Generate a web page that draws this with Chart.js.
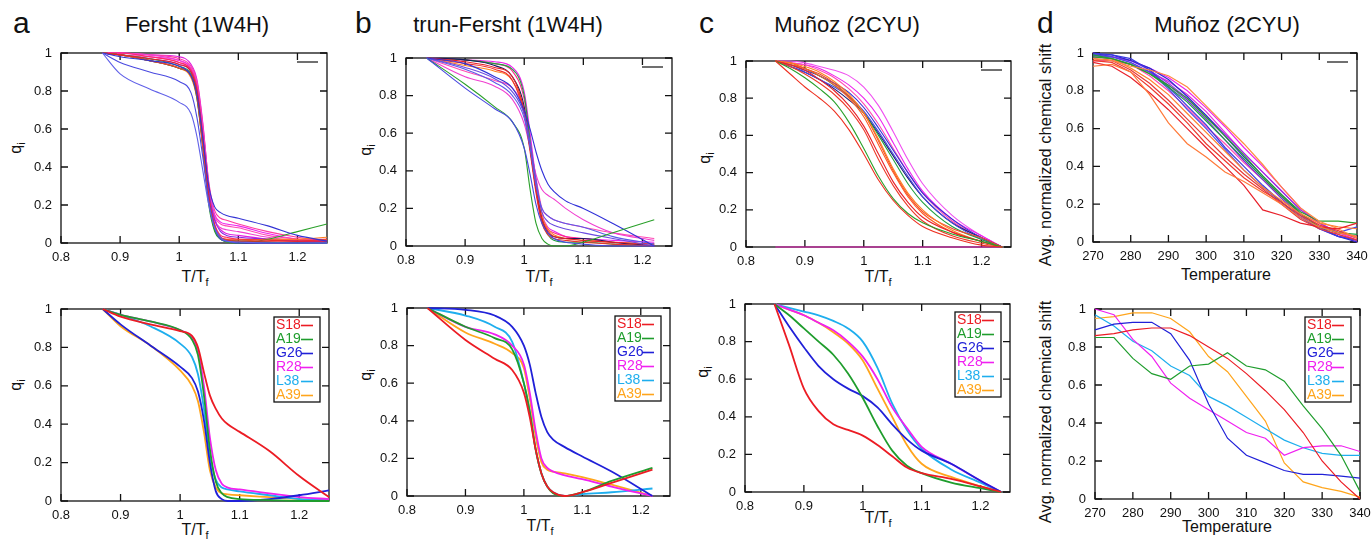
<!DOCTYPE html>
<html>
<head>
<meta charset="utf-8">
<title>Residue unfolding curves</title>
<script src="https://cdn.jsdelivr.net/npm/chart.js@4.4.1/dist/chart.umd.min.js"></script>
<style>
    body { margin: 0; width: 1371px; height: 542px; position: relative; overflow: hidden; background: #fff;
           font-family: "Liberation Sans", Arial, sans-serif; color: #111 }
    canvas { position: absolute }
    .t { position: absolute; white-space: nowrap; line-height: 1 }
    .letter { font-size: 30px }
    .title { font-size: 22px; transform: translateX(-50%) }
    .axis { font-size: 16px; transform: translate(-50%, -50%) }
    .yaxis { font-size: 16px; transform: translate(-50%, -50%) rotate(-90deg) }
    .ylong { font-size: 16.5px; transform: translate(-50%, -50%) rotate(-90deg) }
    sub { font-size: 11px; vertical-align: -4px; line-height: 0 }
</style>
</head>
<body>

<div class="t letter" style="left:13px;top:8px">a</div>
<div class="t letter" style="left:355px;top:8px">b</div>
<div class="t letter" style="left:699px;top:8px">c</div>
<div class="t letter" style="left:1037px;top:8px">d</div>

<div class="t title" style="left:197px;top:14px">Fersht (1W4H)</div>
<div class="t title" style="left:508px;top:14px">trun-Fersht (1W4H)</div>
<div class="t title" style="left:847px;top:14px">Muñoz (2CYU)</div>
<div class="t title" style="left:1227px;top:14px">Muñoz (2CYU)</div>

<div class="t axis" style="left:195px;top:277px">T/T<sub>f</sub></div>
<div class="t axis" style="left:195px;top:530px">T/T<sub>f</sub></div>
<div class="t axis" style="left:539px;top:277px">T/T<sub>f</sub></div>
<div class="t axis" style="left:540px;top:526px">T/T<sub>f</sub></div>
<div class="t axis" style="left:878px;top:277px">T/T<sub>f</sub></div>
<div class="t axis" style="left:878px;top:518px">T/T<sub>f</sub></div>
<div class="t axis" style="left:1226px;top:275px">Temperature</div>
<div class="t axis" style="left:1227px;top:527px">Temperature</div>

<div class="t yaxis" style="left:16px;top:148px">q<sub>i</sub></div>
<div class="t yaxis" style="left:16px;top:385px">q<sub>i</sub></div>
<div class="t yaxis" style="left:366px;top:150px">q<sub>i</sub></div>
<div class="t yaxis" style="left:366px;top:375px">q<sub>i</sub></div>
<div class="t yaxis" style="left:705px;top:158px">q<sub>i</sub></div>
<div class="t yaxis" style="left:703px;top:372px">q<sub>i</sub></div>
<div class="t ylong" style="left:1045px;top:155px">Avg. normalized chemical shift</div>
<div class="t ylong" style="left:1045px;top:412px">Avg. normalized chemical shift</div>

<script>
// ---- shared axes ----
const qTicks = [0, 0.2, 0.4, 0.6, 0.8, 1]
const ratioTicks = [0.8, 0.9, 1, 1.1, 1.2]
const tempTicks = [270, 280, 290, 300, 310, 320, 330, 340]

// ---- residues shown in the bottom row ----
const residues = ['S18', 'A19', 'G26', 'R28', 'L38', 'A39']
const residueColors = ['#ec1c24', '#1f9d2d', '#2020d8', '#f020f0', '#1eaeee', '#ffa51c']

// ---- a: Fersht (1W4H) ----
const fershtT = [0.87, 0.9, 0.95, 1, 1.02, 1.03, 1.04, 1.05, 1.06, 1.07, 1.08, 1.1, 1.15, 1.2, 1.25]
const fershtAll = [
    [1, 0.89, 0.81, 0.74, 0.68, 0.56, 0.38, 0.2, 0.08, 0.03, 0.01, 0.005, 0, 0, 0],
    [1, 0.95, 0.9, 0.85, 0.79, 0.66, 0.45, 0.22, 0.08, 0.02, 0.01, 0, 0, 0, 0],
    [1, 0.98, 0.96, 0.93, 0.88, 0.78, 0.55, 0.3, 0.19, 0.16, 0.145, 0.13, 0.09, 0.04, 0.01],
    [1, 0.99, 0.97, 0.94, 0.9, 0.8, 0.55, 0.25, 0.09, 0.03, 0.015, 0.01, 0.01, 0.01, 0.01],
    [1, 0.99, 0.96, 0.92, 0.88, 0.77, 0.5, 0.22, 0.08, 0.03, 0.02, 0.02, 0.015, 0.01, 0.02],
    [1, 0.99, 0.96, 0.92, 0.88, 0.76, 0.5, 0.2, 0.06, 0.02, 0.005, 0, 0.02, 0.06, 0.1],
    [1, 0.99, 0.97, 0.93, 0.89, 0.79, 0.53, 0.22, 0.07, 0.02, 0.01, 0.01, 0.005, 0, 0],
    [1, 0.99, 0.96, 0.92, 0.87, 0.76, 0.5, 0.22, 0.08, 0.03, 0.02, 0.01, 0.02, 0.02, 0.03],
    [1, 0.99, 0.96, 0.92, 0.88, 0.78, 0.52, 0.22, 0.07, 0.02, 0.01, 0, 0, 0, 0],
    [1, 0.99, 0.97, 0.94, 0.9, 0.8, 0.56, 0.27, 0.12, 0.06, 0.04, 0.03, 0.02, 0.01, 0.01],
    [1, 1, 0.98, 0.95, 0.91, 0.82, 0.57, 0.27, 0.1, 0.04, 0.03, 0.02, 0.02, 0.02, 0.02],
    [1, 0.99, 0.98, 0.95, 0.91, 0.82, 0.58, 0.29, 0.14, 0.1, 0.09, 0.08, 0.04, 0.02, 0],
    [1, 1, 0.99, 0.96, 0.92, 0.84, 0.6, 0.28, 0.12, 0.08, 0.07, 0.06, 0.03, 0.01, 0],
    [1, 1, 0.98, 0.96, 0.92, 0.83, 0.6, 0.3, 0.15, 0.11, 0.1, 0.09, 0.05, 0.02, 0.01],
    [1, 1, 0.99, 0.97, 0.93, 0.85, 0.62, 0.32, 0.17, 0.13, 0.12, 0.1, 0.06, 0.03, 0.01],
    [1, 1, 0.99, 0.98, 0.94, 0.86, 0.63, 0.31, 0.13, 0.07, 0.05, 0.04, 0.02, 0.01, 0]
]
const fershtAllColors = ['#6060e8', '#4a4ae0', '#3434d4', '#e8202a', '#ee4030', '#2aa02a', '#20a040',
    '#ff8020', '#1a1a60', '#8a2be2', '#ff2a6a', '#ff4ab4', '#f040d0', '#ee22ee', '#ff3aa0', '#e020e0']
const fershtSelected = [
    [1, 0.96, 0.92, 0.885, 0.86, 0.8, 0.67, 0.55, 0.48, 0.43, 0.4, 0.36, 0.26, 0.13, 0.02],
    [1, 0.97, 0.935, 0.89, 0.84, 0.76, 0.55, 0.27, 0.1, 0.04, 0.02, 0.01, 0.005, 0, 0],
    [1, 0.92, 0.81, 0.7, 0.64, 0.57, 0.42, 0.2, 0.05, 0.01, 0, 0, 0.01, 0.03, 0.055],
    [1, 0.97, 0.935, 0.89, 0.85, 0.78, 0.6, 0.33, 0.16, 0.09, 0.07, 0.06, 0.04, 0.02, 0.01],
    [1, 0.97, 0.91, 0.82, 0.75, 0.66, 0.48, 0.24, 0.11, 0.07, 0.06, 0.05, 0.03, 0.01, 0.005],
    [1, 0.91, 0.81, 0.68, 0.6, 0.52, 0.36, 0.16, 0.07, 0.04, 0.035, 0.03, 0.02, 0.01, 0.005]
]

// ---- b: trun-Fersht (1W4H) ----
const trunT = [0.835, 0.9, 0.95, 0.98, 1, 1.01, 1.02, 1.03, 1.04, 1.05, 1.07, 1.1, 1.15, 1.22]
const trunAll = [
    [1, 0.84, 0.73, 0.66, 0.52, 0.38, 0.22, 0.12, 0.07, 0.04, 0.02, 0.01, 0, 0],
    [1, 0.86, 0.74, 0.66, 0.52, 0.3, 0.12, 0.04, 0.01, 0, 0, 0.02, 0.07, 0.14],
    [1, 0.97, 0.9, 0.84, 0.72, 0.62, 0.5, 0.4, 0.33, 0.29, 0.24, 0.2, 0.12, 0],
    [1, 0.94, 0.87, 0.8, 0.68, 0.52, 0.32, 0.2, 0.16, 0.14, 0.12, 0.1, 0.05, 0.01],
    [1, 0.95, 0.89, 0.82, 0.7, 0.55, 0.35, 0.18, 0.13, 0.11, 0.09, 0.07, 0.04, 0],
    [1, 0.98, 0.95, 0.9, 0.72, 0.52, 0.3, 0.14, 0.08, 0.05, 0.04, 0.03, 0.02, 0.01],
    [1, 0.97, 0.94, 0.88, 0.7, 0.5, 0.28, 0.12, 0.06, 0.04, 0.03, 0.02, 0.01, 0],
    [1, 0.99, 0.96, 0.9, 0.74, 0.52, 0.3, 0.14, 0.07, 0.05, 0.04, 0.04, 0.02, 0],
    [1, 0.99, 0.97, 0.94, 0.8, 0.56, 0.3, 0.13, 0.06, 0.03, 0.02, 0.02, 0.01, 0],
    [1, 0.96, 0.93, 0.88, 0.72, 0.52, 0.32, 0.16, 0.09, 0.06, 0.04, 0.03, 0.02, 0.01],
    [1, 0.9, 0.85, 0.78, 0.65, 0.52, 0.38, 0.3, 0.27, 0.25, 0.2, 0.14, 0.07, 0.03],
    [1, 0.93, 0.88, 0.84, 0.72, 0.55, 0.36, 0.2, 0.16, 0.14, 0.12, 0.1, 0.07, 0.04],
    [1, 0.99, 0.97, 0.93, 0.78, 0.56, 0.32, 0.15, 0.09, 0.07, 0.05, 0.04, 0.02, 0],
    [1, 0.99, 0.98, 0.95, 0.82, 0.6, 0.35, 0.17, 0.1, 0.08, 0.05, 0.04, 0.03, 0.02]
]
const trunAllColors = ['#4848e0', '#2aa02a', '#3030d8', '#5a5ae8', '#6a4ae0', '#e8202a', '#ee3030',
    '#1a1a60', '#20a040', '#ff8020', '#f040d0', '#ff4ab4', '#ff2a8a', '#ee22ee']
const trunSelected = [
    [1, 0.83, 0.73, 0.67, 0.55, 0.42, 0.25, 0.12, 0.05, 0.02, 0, 0.02, 0.07, 0.14],
    [1, 0.9, 0.84, 0.78, 0.6, 0.45, 0.25, 0.12, 0.05, 0.015, 0, 0.02, 0.08, 0.15],
    [1, 0.99, 0.96, 0.9, 0.8, 0.7, 0.55, 0.42, 0.34, 0.3, 0.26, 0.21, 0.13, 0],
    [1, 0.9, 0.86, 0.8, 0.7, 0.55, 0.35, 0.2, 0.15, 0.13, 0.11, 0.09, 0.05, 0],
    [1, 0.96, 0.9, 0.82, 0.6, 0.45, 0.25, 0.12, 0.05, 0.02, 0, 0.01, 0.02, 0.04],
    [1, 0.87, 0.81, 0.76, 0.68, 0.52, 0.32, 0.18, 0.14, 0.13, 0.12, 0.1, 0.06, 0]
]

// ---- c: Muñoz (2CYU) ----
const munozT = [0.85, 0.875, 0.9, 0.925, 0.95, 0.975, 1, 1.025, 1.05, 1.075, 1.1, 1.15, 1.2, 1.235]
const munozAll = [
    [1, 0.93, 0.86, 0.8, 0.73, 0.63, 0.5, 0.36, 0.25, 0.17, 0.11, 0.05, 0.01, 0],
    [1, 0.96, 0.91, 0.85, 0.78, 0.67, 0.53, 0.38, 0.26, 0.18, 0.13, 0.07, 0.03, 0],
    [1, 0.98, 0.95, 0.9, 0.84, 0.76, 0.65, 0.5, 0.35, 0.24, 0.16, 0.08, 0.03, 0],
    [1, 0.98, 0.96, 0.92, 0.87, 0.8, 0.7, 0.55, 0.4, 0.27, 0.18, 0.08, 0.03, 0],
    [1, 0.99, 0.97, 0.94, 0.89, 0.82, 0.72, 0.58, 0.42, 0.29, 0.2, 0.09, 0.03, 0],
    [1, 0.99, 0.96, 0.93, 0.88, 0.81, 0.72, 0.57, 0.41, 0.28, 0.19, 0.1, 0.05, 0],
    [1, 0.97, 0.93, 0.88, 0.82, 0.74, 0.63, 0.47, 0.33, 0.22, 0.14, 0.06, 0.02, 0],
    [1, 0.98, 0.96, 0.92, 0.87, 0.81, 0.72, 0.6, 0.47, 0.34, 0.24, 0.11, 0.04, 0],
    [1, 0.98, 0.95, 0.92, 0.88, 0.83, 0.75, 0.64, 0.52, 0.4, 0.29, 0.15, 0.05, 0],
    [1, 0.97, 0.94, 0.9, 0.86, 0.81, 0.73, 0.62, 0.5, 0.38, 0.27, 0.13, 0.04, 0],
    [1, 0.97, 0.94, 0.9, 0.85, 0.79, 0.72, 0.61, 0.49, 0.37, 0.27, 0.13, 0.05, 0],
    [1, 0.99, 0.98, 0.95, 0.91, 0.85, 0.77, 0.66, 0.53, 0.4, 0.29, 0.14, 0.05, 0],
    [1, 0.99, 0.98, 0.96, 0.92, 0.87, 0.8, 0.7, 0.56, 0.42, 0.3, 0.15, 0.06, 0],
    [1, 1, 0.99, 0.97, 0.95, 0.92, 0.86, 0.76, 0.62, 0.47, 0.34, 0.17, 0.06, 0],
    [0, 0, 0, 0, 0, 0, 0, 0, 0, 0, 0, 0, 0, 0]
]
const munozAllColors = ['#ee3020', '#2aa02a', '#e8202a', '#ff5a20', '#ff8020', '#f04a30', '#ee3a2a',
    '#20a040', '#3030d8', '#4848e0', '#1a1a70', '#ff4ab4', '#ee22ee', '#f050f0', '#f020c0']
const munozSelected = [
    [1, 0.78, 0.55, 0.43, 0.36, 0.33, 0.3, 0.25, 0.19, 0.13, 0.1, 0.07, 0.03, 0],
    [1, 0.94, 0.87, 0.8, 0.73, 0.63, 0.5, 0.35, 0.22, 0.14, 0.1, 0.05, 0.02, 0],
    [1, 0.88, 0.77, 0.67, 0.6, 0.55, 0.51, 0.45, 0.36, 0.28, 0.22, 0.15, 0.06, 0],
    [1, 0.97, 0.94, 0.9, 0.86, 0.8, 0.72, 0.6, 0.45, 0.34, 0.24, 0.15, 0.06, 0],
    [1, 0.98, 0.96, 0.94, 0.91, 0.87, 0.8, 0.66, 0.47, 0.33, 0.23, 0.12, 0.05, 0],
    [1, 0.97, 0.94, 0.9, 0.85, 0.79, 0.7, 0.55, 0.4, 0.25, 0.15, 0.08, 0.03, 0]
]

// ---- d: Muñoz (2CYU), NMR chemical shifts ----
const shiftTemp = [270, 275, 280, 285, 290, 295, 300, 305, 310, 315, 320, 325, 330, 335, 340]
const shiftAll = [
    [0.93, 0.94, 0.9, 0.78, 0.63, 0.52, 0.45, 0.37, 0.32, 0.26, 0.2, 0.13, 0.08, 0.05, 0.03],
    [0.95, 0.93, 0.87, 0.79, 0.7, 0.6, 0.5, 0.4, 0.3, 0.17, 0.14, 0.1, 0.08, 0.07, 0.1],
    [0.97, 0.96, 0.93, 0.91, 0.88, 0.82, 0.72, 0.62, 0.52, 0.41, 0.29, 0.18, 0.11, 0.07, 0.02],
    [0.98, 0.97, 0.94, 0.89, 0.83, 0.76, 0.66, 0.56, 0.46, 0.35, 0.25, 0.16, 0.11, 0.11, 0.1],
    [0.96, 0.95, 0.9, 0.82, 0.73, 0.63, 0.52, 0.43, 0.34, 0.27, 0.21, 0.14, 0.09, 0.06, 0.02],
    [0.97, 0.96, 0.91, 0.84, 0.75, 0.65, 0.55, 0.45, 0.36, 0.28, 0.2, 0.12, 0.07, 0.04, 0.01],
    [0.96, 0.97, 0.92, 0.86, 0.78, 0.68, 0.58, 0.48, 0.38, 0.29, 0.22, 0.15, 0.1, 0.08, 0.07],
    [0.99, 0.97, 0.94, 0.89, 0.82, 0.74, 0.64, 0.54, 0.44, 0.34, 0.24, 0.15, 0.08, 0.05, 0.04],
    [1, 0.99, 0.97, 0.91, 0.82, 0.72, 0.62, 0.5, 0.4, 0.3, 0.21, 0.13, 0.07, 0.03, 0.01],
    [0.99, 0.98, 0.95, 0.9, 0.81, 0.7, 0.6, 0.49, 0.38, 0.29, 0.21, 0.13, 0.08, 0.05, 0.08],
    [0.99, 0.99, 0.96, 0.92, 0.86, 0.77, 0.67, 0.56, 0.45, 0.35, 0.25, 0.15, 0.08, 0.03, 0],
    [1, 0.98, 0.95, 0.9, 0.83, 0.75, 0.65, 0.54, 0.43, 0.33, 0.23, 0.14, 0.07, 0.03, 0.01],
    [0.98, 0.98, 0.96, 0.91, 0.84, 0.76, 0.67, 0.57, 0.47, 0.37, 0.27, 0.17, 0.1, 0.05, 0.03],
    [0.98, 0.97, 0.94, 0.88, 0.8, 0.71, 0.61, 0.52, 0.42, 0.33, 0.24, 0.15, 0.09, 0.05, 0.02],
    [0.96, 0.96, 0.94, 0.9, 0.85, 0.78, 0.69, 0.58, 0.47, 0.37, 0.27, 0.17, 0.1, 0.04, 0],
    [0.99, 0.98, 0.96, 0.92, 0.87, 0.8, 0.71, 0.61, 0.5, 0.4, 0.29, 0.18, 0.1, 0.05, 0.01]
]
const shiftAllColors = ['#ff7a3a', '#e8202a', '#ff8a40', '#2aa02a', '#ee3a30', '#e83a3a', '#ff8030',
    '#20a040', '#3a3ae0', '#4a4ae6', '#2a2ad0', '#7a2ae0', '#9a30e8', '#ff4ab4', '#e030e0', '#ee22ee']
const shiftSelected = [
    [0.86, 0.87, 0.89, 0.9, 0.9, 0.86, 0.8, 0.74, 0.66, 0.57, 0.47, 0.35, 0.2, 0.09, 0],
    [0.85, 0.85, 0.74, 0.66, 0.63, 0.7, 0.71, 0.77, 0.7, 0.68, 0.62, 0.49, 0.37, 0.23, 0.04],
    [0.89, 0.92, 0.93, 0.93, 0.87, 0.73, 0.5, 0.32, 0.23, 0.19, 0.15, 0.13, 0.13, 0.12, 0.11],
    [1, 0.97, 0.84, 0.75, 0.61, 0.53, 0.47, 0.41, 0.35, 0.32, 0.23, 0.27, 0.28, 0.28, 0.25],
    [0.97, 0.91, 0.83, 0.78, 0.7, 0.65, 0.54, 0.49, 0.43, 0.37, 0.31, 0.27, 0.24, 0.23, 0.23],
    [0.95, 0.96, 0.98, 0.98, 0.95, 0.88, 0.75, 0.67, 0.54, 0.41, 0.19, 0.09, 0.06, 0.04, 0.01]
]

Chart.defaults.font.family = '"Liberation Sans", Arial, sans-serif'
Chart.defaults.font.size = 13
Chart.defaults.color = '#111'

/**
 * Gnuplot style border with inward tick marks on all four sides
 */
const framePlugin = {
    id: 'frame',
    beforeDatasetsDraw(chart) {
        const {ctx, chartArea: a, scales: {x, y}} = chart
        const len = 7
        ctx.save()
        ctx.strokeStyle = '#111'
        ctx.lineWidth = 1.3
        ctx.strokeRect(a.left, a.top, a.right - a.left, a.bottom - a.top)
        ctx.beginPath()
        for (const t of x.ticks) {
            const px = x.getPixelForValue(t.value)
            ctx.moveTo(px, a.bottom); ctx.lineTo(px, a.bottom - len)
            ctx.moveTo(px, a.top); ctx.lineTo(px, a.top + len)
        }
        for (const t of y.ticks) {
            const py = y.getPixelForValue(t.value)
            ctx.moveTo(a.left, py); ctx.lineTo(a.left + len, py)
            ctx.moveTo(a.right, py); ctx.lineTo(a.right - len, py)
        }
        ctx.stroke()
        ctx.restore()
    }
}

/**
 * Key in the top right corner: a boxed list of labelled samples,
 * or the lone untitled sample line that the top row shows
 */
const keyPlugin = {
    id: 'key',
    afterDatasetsDraw(chart, args, opts) {
        const {ctx, chartArea: a} = chart
        const right = a.right - 9
        const top = a.top + 8
        ctx.save()
        ctx.lineWidth = 1.3
        if (!opts.boxed) {
            ctx.strokeStyle = '#222'
            ctx.beginPath()
            ctx.moveTo(right - 21, top + 1); ctx.lineTo(right, top + 1)
            ctx.stroke()
            ctx.restore()
            return
        }
        const items = chart.data.datasets.filter(d => d.label)
        const w = 46
        ctx.strokeStyle = '#111'
        ctx.strokeRect(right - w, top, w, items.length * 14 + 1)
        ctx.font = '14px "Liberation Sans", Arial, sans-serif'
        ctx.textBaseline = 'middle'
        items.forEach((d, i) => {
            const cy = top + 8.5 + i * 14
            ctx.fillStyle = d.borderColor
            ctx.fillText(d.label, right - w + 2, cy)
            ctx.strokeStyle = d.borderColor
            ctx.lineWidth = 1.6
            ctx.beginPath()
            ctx.moveTo(right - 19, cy); ctx.lineTo(right - 7, cy)
            ctx.stroke()
        })
        ctx.restore()
    }
}

Chart.register(framePlugin, keyPlugin)

/**
 * Turns a list of value rows into line datasets
 * @param {[number]} xs shared x values
 * @param {[[number]]} rows y values, one row per curve
 * @param {[string]} colors colour of each curve
 * @param {[string]} labels key labels, or null
 * @param {object} style extra dataset options
 */
const toDatasets = (xs, rows, colors, labels, style) => rows.map((row, i) => ({
    label: labels ? labels[i] : '',
    data: row.map((v, j) => ({x: xs[j], y: v})),
    borderColor: colors[i],
    pointRadius: 0,
    fill: false,
    clip: false,
    ...style
}))

/**
 * Draws one panel so that its plot area sits at rect
 * @param {[number]} rect plot area [left, top, right, bottom] in page pixels
 * @param {object} xAxis {min, max, ticks}
 * @param {[object]} datasets line datasets
 * @param {boolean} boxed draw the residue key
 */
function drawPanel(rect, xAxis, datasets, boxed) {
    const [l, t, r, b] = rect
    const yw = 55, xh = 30, pad = 20
    const canvas = document.createElement('canvas')
    canvas.width = r - l + yw + pad
    canvas.height = b - t + pad + xh
    canvas.style.left = `${l - yw}px`
    canvas.style.top = `${t - pad}px`
    document.body.appendChild(canvas)

    new Chart(canvas, {
        type: 'line',
        data: {datasets: datasets},
        options: {
            responsive: false,
            animation: false,
            devicePixelRatio: 1,
            layout: {padding: {top: pad, right: pad, left: 0, bottom: 0}},
            plugins: {legend: {display: false}, tooltip: {enabled: false}, key: {boxed: boxed}},
            scales: {
                x: {
                    type: 'linear', min: xAxis.min, max: xAxis.max,
                    grid: {display: false, drawTicks: false}, border: {display: false},
                    afterBuildTicks: s => { s.ticks = xAxis.ticks.map(v => ({value: v})) },
                    afterFit: s => { s.height = xh },
                    ticks: {padding: 7, maxRotation: 0, callback: v => String(v)}
                },
                y: {
                    type: 'linear', min: 0, max: 1,
                    grid: {display: false, drawTicks: false}, border: {display: false},
                    afterBuildTicks: s => { s.ticks = qTicks.map(v => ({value: v})) },
                    afterFit: s => { s.width = yw },
                    ticks: {padding: 9, callback: v => String(v)}
                }
            }
        }
    })
}

const ratioAxis = {min: 0.8, max: 1.25, ticks: ratioTicks}
const tempAxis = {min: 270, max: 340, ticks: tempTicks}
const smoothThin = {borderWidth: 1.1, cubicInterpolationMode: 'monotone'}
const smoothBold = {borderWidth: 1.8, cubicInterpolationMode: 'monotone'}
const straight = {borderWidth: 1.2, tension: 0}

drawPanel([61, 53, 327, 243], ratioAxis, toDatasets(fershtT, fershtAll, fershtAllColors, null, smoothThin), false)
drawPanel([61, 309, 329, 501], ratioAxis, toDatasets(fershtT, fershtSelected, residueColors, residues, smoothBold), true)
drawPanel([406, 58, 672, 246], ratioAxis, toDatasets(trunT, trunAll, trunAllColors, null, smoothThin), false)
drawPanel([407, 308, 670, 496], ratioAxis, toDatasets(trunT, trunSelected, residueColors, residues, smoothBold), true)
drawPanel([746, 61, 1011, 247], ratioAxis, toDatasets(munozT, munozAll, munozAllColors, null, smoothThin), false)
drawPanel([745, 304, 1010, 492], ratioAxis, toDatasets(munozT, munozSelected, residueColors, residues, smoothBold), true)
drawPanel([1093, 53, 1357, 242], tempAxis, toDatasets(shiftTemp, shiftAll, shiftAllColors, null, straight), false)
drawPanel([1095, 309, 1360, 499], tempAxis, toDatasets(shiftTemp, shiftSelected, residueColors, residues, straight), true)
</script>
</body>
</html>
